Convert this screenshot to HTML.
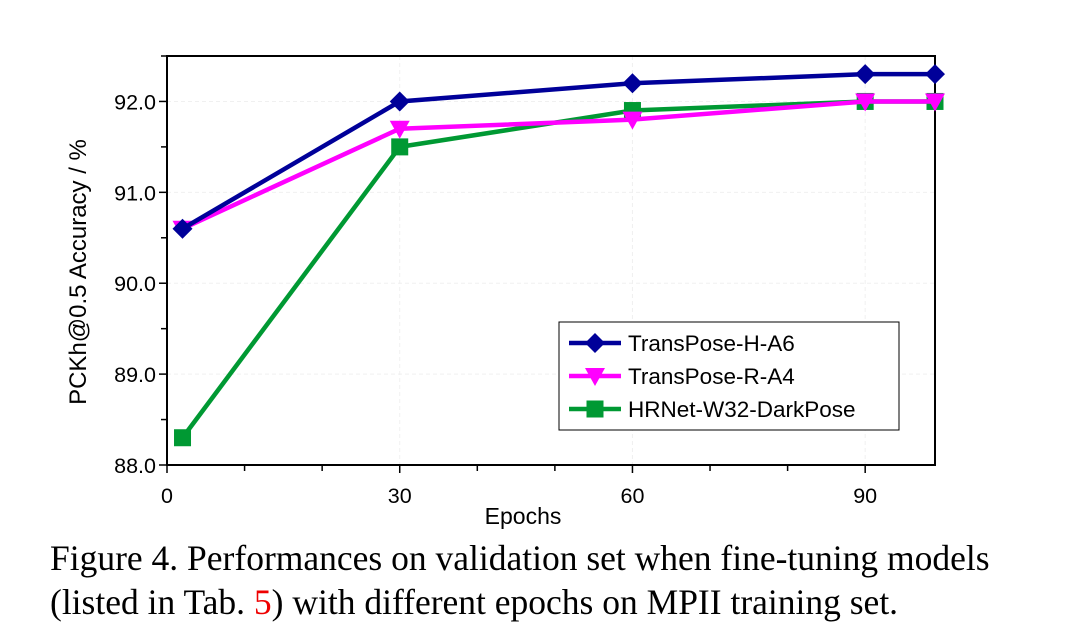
<!DOCTYPE html>
<html><head><meta charset="utf-8"><style>
body{margin:0;background:#fff;width:1083px;height:630px;overflow:hidden}
svg text{font-family:"Liberation Sans",sans-serif}
.cap{position:absolute;left:50px;top:536px;font-family:"Liberation Serif",serif;font-size:35.5px;line-height:44px;color:#000;white-space:nowrap}
</style></head><body>
<svg id="chart" width="1083" height="630" style="position:absolute;left:0;top:0"></svg>
<div class="cap">Figure 4. Performances on validation set when fine-tuning models<br>(listed in Tab. <span style="color:#e00">5</span>) with different epochs on MPII training set.</div>
<script>
const epochs=[2,30,60,90,99];
const hA6=[90.6,92.0,92.2,92.3,92.3];
const rA4=[90.6,91.7,91.8,92.0,92.0];
const hrnet=[88.3,91.5,91.9,92.0,92.0];
const xTicks=[0,30,60,90];
const yTicks=[88.0,89.0,90.0,91.0,92.0];
const seriesNames=["TransPose-H-A6","TransPose-R-A4","HRNet-W32-DarkPose"];
const NS="http://www.w3.org/2000/svg";
const svg=document.getElementById('chart');
const L=167,R=935,T=56,B=465,X0=0,X1=99,Y0=88,Y1=92.5;
const sx=v=>L+(v-X0)/(X1-X0)*(R-L);
const sy=v=>B-(v-Y0)/(Y1-Y0)*(B-T);
function el(t,a,p){const e=document.createElementNS(NS,t);for(const k in a)e.setAttribute(k,a[k]);(p||svg).appendChild(e);return e;}
xTicks.forEach(t=>{if(t>0){const g=el('line',{x1:sx(t),x2:sx(t),y1:T,y2:B,stroke:'#f0f0f0','stroke-dasharray':'4,3'});

}});
yTicks.forEach(t=>{const g=el('line',{x1:L,x2:R,y1:sy(t),y2:sy(t),stroke:'#f0f0f0','stroke-dasharray':'4,3'});

});
const fr=el('rect',{x:L,y:T,width:R-L,height:B-T,fill:'none',stroke:'#000','stroke-width':2});


for(let t=0;t<=90;t+=10){el('line',{x1:sx(t),x2:sx(t),y1:B,y2:B+(t%30==0?8:6),stroke:'#000','stroke-width':1.5});}
xTicks.forEach(t=>{const tx=el('text',{x:sx(t),y:B+38,'font-size':21.5,'text-anchor':'middle'});tx.textContent=t;

});
for(let v=88;v<=92.5;v+=0.5){el('line',{x1:L-(v%1==0?8:6),x2:L,y1:sy(v),y2:sy(v),stroke:'#000','stroke-width':1.5});}
yTicks.forEach(t=>{const tx=el('text',{x:L-11,y:sy(t)+8,'font-size':21.5,'text-anchor':'end'});tx.textContent=t.toFixed(1);

});
const xt=el('text',{x:523,y:524,'font-size':23,'text-anchor':'middle'});xt.textContent='Epochs';


const yt=el('text',{x:0,y:0,'font-size':24,'text-anchor':'middle',transform:'translate(86,272) rotate(-90)'});yt.textContent='PCKh@0.5 Accuracy / %';


function marker(type,x,y,c,g){
 if(type==='d')el('polygon',{points:`${x},${y-10} ${x+10},${y} ${x},${y+10} ${x-10},${y}`,fill:c},g);
 else if(type==='v')el('polygon',{points:`${x-10},${y-8} ${x+10},${y-8} ${x},${y+10}`,fill:c},g);
 else el('rect',{x:x-8.5,y:y-8.5,width:17,height:17,fill:c},g);
}
const series=[[hrnet,'#009933','s','series-hrnet'],[rA4,'#ff00ff','v','series-transpose-r-a4'],[hA6,'#000099','d','series-transpose-h-a6']];
series.forEach(([d,c,m,n])=>{
 const g=el('g',{});
 
 
 el('polyline',{points:epochs.map((e,i)=>sx(e)+','+sy(d[i])).join(' '),fill:'none',stroke:c,'stroke-width':4.5},g);
 epochs.forEach((e,i)=>marker(m,sx(e),sy(d[i]),c,g));
});
const lg=el('g',{});


el('rect',{x:559,y:322,width:340,height:108,fill:'#fff',stroke:'#000','stroke-width':1},lg);
[['#000099','d'],['#ff00ff','v'],['#009933','s']].forEach(([c,m],i)=>{
 const y=343+i*33;
 const e=el('g',{},lg);
 
 
 el('line',{x1:569,x2:621,y1:y,y2:y,stroke:c,'stroke-width':4.5},e);
 marker(m,595,y,c,e);
 const t=el('text',{x:628,y:y+8,'font-size':22.5},e);t.textContent=seriesNames[i];
});
</script>
</body></html>
